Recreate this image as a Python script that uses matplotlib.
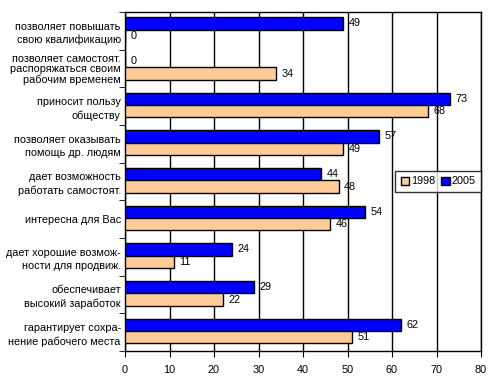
import numpy as np
import matplotlib
matplotlib.use("Agg")
import matplotlib.pyplot as plt

categories = [
    "позволяет повышать\nсвою квалификацию",
    "позволяет самостоят.\nраспоряжаться своим\nрабочим временем",
    "приносит пользу\nобществу",
    "позволяет оказывать\nпомощь др. людям",
    "дает возможность\nработать самостоят.",
    "интересна для Вас",
    "дает хорошие возмож-\nности для продвиж.",
    "обеспечивает\nвысокий заработок",
    "гарантирует сохра-\nнение рабочего места",
]
values_2005 = [49, 0, 73, 57, 44, 54, 24, 29, 62]
values_1998 = [0, 34, 68, 49, 48, 46, 11, 22, 51]

plt.rcParams['font.family'] = ['Liberation Sans', 'DejaVu Sans']
plt.rcParams['font.size'] = 7.8

fig = plt.figure(figsize=(4.93, 3.85), dpi=100)
ax = fig.add_axes([125 / 493, 34 / 385, 356 / 493, 339 / 385])

y = np.arange(len(categories))
h = 0.33
b05 = ax.barh(y - h / 2 - 0.03, values_2005, height=h, color="#0000FF", edgecolor="black", linewidth=1, label="2005", zorder=3)
b98 = ax.barh(y + h / 2 - 0.03, values_1998, height=h, color="#FFCC99", edgecolor="black", linewidth=1, label="1998", zorder=3)

for bars, vals in ((b05, values_2005), (b98, values_1998)):
    for bar, v in zip(bars, vals):
        ax.annotate(str(v), (v, bar.get_y() + bar.get_height() / 2), xytext=(4, 0),
                    textcoords="offset points", va="center", ha="left")

ax.set_xlim(0, 80)
ax.set_ylim(len(categories) - 0.5, -0.5)
ax.set_xticks(range(0, 81, 10))
ax.set_yticks(y)
labels = ax.set_yticklabels(categories)
for lab, name in zip(labels, categories):
    lab.set_linespacing(1.0 if name.count("\n") > 1 else 1.4)
ax.set_yticks(np.arange(-0.5, len(categories), 1), minor=True)
ax.tick_params(axis="y", which="major", length=0, pad=3)
ax.tick_params(axis="y", which="minor", length=4, direction="out")
ax.tick_params(axis="x", length=4, direction="out", pad=6)
ax.xaxis.grid(True, color="black", linewidth=1, zorder=0)
for s in ax.spines.values():
    s.set_linewidth(1)

leg = ax.legend(handles=[b98, b05], loc="center", bbox_to_anchor=(0.88, 0.5), ncol=2,
                frameon=True, fancybox=False, edgecolor="black", handlelength=0.8,
                handleheight=0.8, handletextpad=0.2, columnspacing=0.5, borderpad=0.5)
leg.get_frame().set_linewidth(1)

fig.savefig("out.png", dpi=100)
